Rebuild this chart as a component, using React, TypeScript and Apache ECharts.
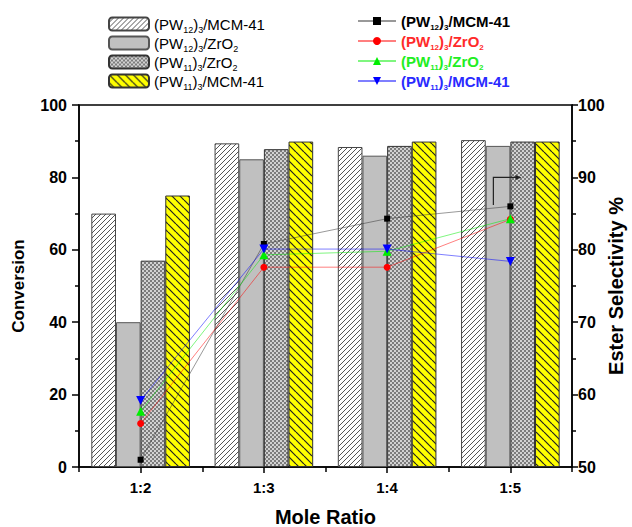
import React, { useEffect, useRef } from "react";
import * as echarts from "echarts";

const categories = ["1:2", "1:3", "1:4", "1:5"];
const convPW12MCM = [70, 89.4, 88.4, 90.3];
const convPW12Zr = [40, 85, 86, 88.7];
const convPW11Zr = [57, 87.8, 88.7, 89.9];
const convPW11MCM = [75, 89.9, 89.9, 89.9];
const selPW12MCM = [51, 80.8, 84.3, 86];
const selPW12Zr = [56, 77.6, 77.6, 84.2];
const selPW11Zr = [57.7, 79.3, 79.8, 84.3];
const selPW11MCM = [59.2, 80.1, 80.1, 78.4];
const leftTicks = [0, 20, 40, 60, 80, 100];
const rightTicks = [50, 60, 70, 80, 90, 100];
const arrowFrom = 86.2;
const arrowTo = 90;

const labels: Record<string, string> = {
  b1: "(PW{s|12}){s|3}/MCM-41",
  b2: "(PW{s|12}){s|3}/ZrO{s|2}",
  b3: "(PW{s|11}){s|3}/ZrO{s|2}",
  b4: "(PW{s|11}){s|3}/MCM-41",
  l1: "(PW{s|12}){s|3}/MCM-41",
  l2: "(PW{s|12}){s|3}/ZrO{s|2}",
  l3: "(PW{s|11}){s|3}/ZrO{s|2}",
  l4: "(PW{s|11}){s|3}/MCM-41",
};

function hatch(bg: string, fg: string, size: number, dir: number, lw: number) {
  const c = document.createElement("canvas");
  c.width = size;
  c.height = size;
  const ctx = c.getContext("2d")!;
  ctx.fillStyle = bg;
  ctx.fillRect(0, 0, size, size);
  ctx.strokeStyle = fg;
  ctx.lineWidth = lw;
  for (let k = -1; k <= 1; k++) {
    ctx.beginPath();
    if (dir > 0) {
      ctx.moveTo(k * size, size);
      ctx.lineTo(k * size + size, 0);
    } else {
      ctx.moveTo(k * size, 0);
      ctx.lineTo(k * size + size, size);
    }
    ctx.stroke();
  }
  return { image: c, repeat: "repeat", imageWidth: size, imageHeight: size } as any;
}

function dots() {
  const c = document.createElement("canvas");
  c.width = 4;
  c.height = 4;
  const ctx = c.getContext("2d")!;
  ctx.fillStyle = "#6a6a6a";
  ctx.fillRect(0, 0, 4, 4);
  ctx.fillStyle = "#ffffff";
  ctx.beginPath();
  ctx.arc(1, 1, 0.95, 0, Math.PI * 2);
  ctx.fill();
  ctx.beginPath();
  ctx.arc(3, 3, 0.95, 0, Math.PI * 2);
  ctx.fill();
  ctx.fillStyle = "#e0e0e0";
  ctx.fillRect(2.6, 0.6, 0.8, 0.8);
  ctx.fillRect(0.6, 2.6, 0.8, 0.8);
  return { image: c, repeat: "repeat", imageWidth: 4, imageHeight: 4 } as any;
}

const FONT = "Liberation Sans, Arial, sans-serif";

export default function App() {
  const ref = useRef<HTMLDivElement>(null);
  useEffect(() => {
    if (!ref.current) return;
    const chart = echarts.init(ref.current, undefined, { renderer: "svg" });
    const barBase = {
      type: "bar",
      xAxisIndex: 0,
      yAxisIndex: 0,
      barGap: "0%",
      barCategoryGap: "20%",
    };
    const lineBase = {
      type: "line",
      xAxisIndex: 0,
      yAxisIndex: 1,
      z: 5,
      lineStyle: { width: 1, opacity: 0.5 },
    };
    const axisCommon = {
      nameMoveOverlap: false,
      axisLine: { show: true, lineStyle: { color: "#000", width: 1.5 } },
      splitLine: { show: false },
      axisLabel: { color: "#000", fontSize: 16, fontWeight: "bold", fontFamily: FONT },
      nameTextStyle: { color: "#000", fontSize: 18, fontWeight: "bold", fontFamily: FONT },
    };
    chart.setOption({
      animation: false,
      backgroundColor: "#fff",
      grid: {
        left: 79,
        right: 60,
        top: 105,
        bottom: 60,
        outerBoundsMode: "none",
        containLabel: false,
        show: true,
        borderColor: "#000",
        borderWidth: 1.5,
      },
      legend: [
        {
          orient: "vertical",
          left: 103,
          top: 9,
          itemWidth: 40,
          itemHeight: 13,
          itemGap: -1,
          data: ["b1", "b2", "b3", "b4"],
          formatter: (n: string) => labels[n],
          textStyle: {
            fontSize: 15,
            color: "#000",
            fontFamily: FONT,
            lineHeight: 20,
            rich: { s: { fontSize: 9, lineHeight: 4, verticalAlign: "bottom" } },
          },
        },
        {
          orient: "vertical",
          left: 352,
          top: 6,
          itemWidth: 38,
          itemHeight: 10,
          itemGap: 0,
          data: [
            { name: "l1", textStyle: { color: "#000" } },
            { name: "l2", textStyle: { color: "#ff2a2a" } },
            { name: "l3", textStyle: { color: "#22ee22" } },
            { name: "l4", textStyle: { color: "#2a2aff" } },
          ],
          formatter: (n: string) => labels[n],
          textStyle: {
            fontSize: 15,
            fontWeight: "bold",
            fontFamily: FONT,
            lineHeight: 20,
            rich: { s: { fontSize: 8, lineHeight: 4, verticalAlign: "bottom" } },
          },
        },
      ],
      xAxis: [
        {
          type: "category",
          data: categories,
          position: "bottom",
          name: "Mole Ratio",
          nameLocation: "middle",
          nameGap: 40,
          axisTick: { show: true, alignWithLabel: true, length: 6, lineStyle: { color: "#000", width: 1.5 } },
          ...axisCommon,
          axisLabel: { ...axisCommon.axisLabel, fontSize: 15, margin: 13 },
          nameTextStyle: { ...axisCommon.nameTextStyle, fontSize: 20, lineHeight: 20 },
        },
        {
          type: "category",
          data: categories,
          position: "bottom",
          axisLine: { show: false },
          axisLabel: { show: false },
          axisTick: { show: true, length: 5, lineStyle: { color: "#000", width: 1.5 } },
          splitLine: { show: false },
        },
      ],
      yAxis: [
        {
          type: "value",
          min: leftTicks[0],
          max: leftTicks[leftTicks.length - 1],
          interval: leftTicks[1] - leftTicks[0],
          name: "Conversion",
          nameLocation: "middle",
          nameGap: 52,
          axisTick: { show: true, length: 7, lineStyle: { color: "#000", width: 1.5 } },
          minorTick: { show: true, splitNumber: 2, length: 4, lineStyle: { color: "#000", width: 1.5 } },
          ...axisCommon,
          axisLabel: { ...axisCommon.axisLabel, margin: 12 },
          nameTextStyle: { ...axisCommon.nameTextStyle, fontSize: 17 },
        },
        {
          type: "value",
          position: "right",
          min: rightTicks[0],
          max: rightTicks[rightTicks.length - 1],
          interval: rightTicks[1] - rightTicks[0],
          name: "Ester Selectivity %",
          nameLocation: "middle",
          nameGap: 34,
          axisTick: { show: true, length: 6, lineStyle: { color: "#000", width: 1.5 } },
          minorTick: { show: true, splitNumber: 2, length: 4, lineStyle: { color: "#000", width: 1.5 } },
          ...axisCommon,
          axisLabel: { ...axisCommon.axisLabel, margin: 6 },
          nameTextStyle: { ...axisCommon.nameTextStyle, fontSize: 20, lineHeight: 20 },
        },
      ],
      series: [
        {
          ...barBase,
          name: "b1",
          data: convPW12MCM,
          itemStyle: { color: hatch("#ffffff", "#555555", 5, 1, 1), borderColor: "#444", borderWidth: 1 },
        },
        {
          ...barBase,
          name: "b2",
          data: convPW12Zr,
          itemStyle: { color: "#c0c0c0", borderColor: "#555", borderWidth: 1 },
        },
        {
          ...barBase,
          name: "b3",
          data: convPW11Zr,
          itemStyle: { color: dots(), borderColor: "#333", borderWidth: 1 },
        },
        {
          ...barBase,
          name: "b4",
          data: convPW11MCM,
          itemStyle: { color: hatch("#ffff00", "#222222", 8, -1, 1.2), borderColor: "#333", borderWidth: 1 },
        },
        {
          ...lineBase,
          name: "l1",
          data: selPW12MCM,
          symbol: "rect",
          symbolSize: 6,
          itemStyle: { color: "#000" },
          lineStyle: { ...lineBase.lineStyle, color: "#333" },
        },
        {
          ...lineBase,
          name: "l2",
          data: selPW12Zr,
          symbol: "circle",
          symbolSize: 7,
          itemStyle: { color: "#ff0000" },
          lineStyle: { ...lineBase.lineStyle, color: "#ff0000" },
        },
        {
          ...lineBase,
          name: "l3",
          data: selPW11Zr,
          symbol: "triangle",
          symbolSize: 9,
          itemStyle: { color: "#00ee00" },
          lineStyle: { ...lineBase.lineStyle, color: "#00ee00" },
        },
        {
          ...lineBase,
          name: "l4",
          data: selPW11MCM,
          symbol: "triangle",
          symbolRotate: 180,
          symbolSize: 9,
          itemStyle: { color: "#0000ff" },
          lineStyle: { ...lineBase.lineStyle, color: "#0000ff" },
        },
      ],
    });
    const lastCat = categories[categories.length - 1];
    const pTop = chart.convertToPixel({ xAxisIndex: 0, yAxisIndex: 1 }, [lastCat, arrowTo]) as number[];
    const pBot = chart.convertToPixel({ xAxisIndex: 0, yAxisIndex: 1 }, [lastCat, arrowFrom]) as number[];
    const x0 = pTop[0] - 17;
    const x1 = pTop[0] + 10;
    chart.setOption({
      graphic: [
        {
          type: "polyline",
          z: 10,
          shape: { points: [[x0, pBot[1]], [x0, pTop[1]], [x1 - 4, pTop[1]]] },
          style: { stroke: "#222", lineWidth: 1.2, fill: "none" },
        },
        {
          type: "polygon",
          z: 10,
          shape: { points: [[x1 - 5, pTop[1] - 2.5], [x1 + 1, pTop[1]], [x1 - 5, pTop[1] + 2.5]] },
          style: { fill: "#222" },
        },
      ],
    });
    return () => chart.dispose();
  }, []);
  return (
    <div
      ref={ref}
      style={{ position: "fixed", left: 0, top: 0, width: 632, height: 527, background: "#fff" }}
    />
  );
}
